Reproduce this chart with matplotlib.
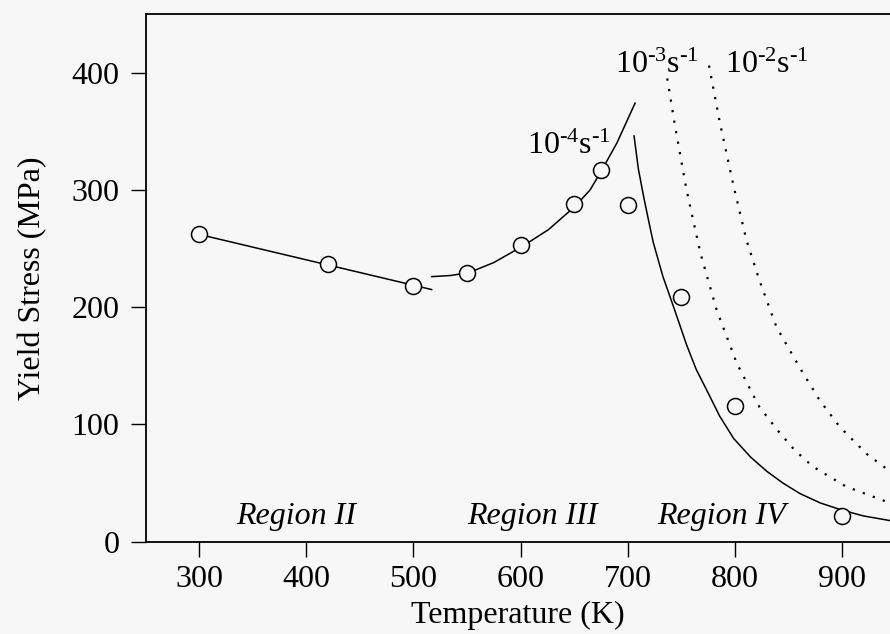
import matplotlib
matplotlib.use("Agg")
import matplotlib.pyplot as plt

plt.rcParams['font.family'] = ['Liberation Serif', 'DejaVu Serif']
plt.rcParams['mathtext.fontset'] = 'custom'
plt.rcParams['mathtext.rm'] = 'Liberation Serif'
plt.rcParams['mathtext.it'] = 'Liberation Serif:italic'

BG = '#f7f7f7'

# measured yield stress (open circles)
temp_pts = [300, 420, 500, 550, 600, 650, 675, 700, 750, 800, 900]
stress_pts = [262, 237, 218, 229, 253, 288, 317, 287, 209, 116, 22]

# region II fit
t_reg2 = [300, 517]
s_reg2 = [262, 215]

# region III fit, 1e-4 /s
t_reg3 = [517, 535, 552, 575, 602, 626, 651, 665, 676, 690, 707]
s_reg3 = [226, 227, 229.5, 238, 252, 266, 286, 300, 317, 340, 374]

# region IV fits for the three strain rates
t_e4 = [706, 710, 715, 720, 724, 733, 743, 755, 764, 774, 786, 799, 815, 830, 845, 861, 880, 900, 920, 945]
s_e4 = [346, 318, 294, 272, 255, 226, 200, 168, 147, 129, 107, 88, 72, 60, 50, 41, 33, 27, 22, 18]

t_e3 = [737, 744, 755, 768, 783, 802, 823, 840, 856, 873, 904, 945]
s_e3 = [395, 356, 300, 246, 198, 152, 115, 95, 78, 64, 47, 33]

t_e2 = [776, 786, 799, 811, 823, 839, 861, 879, 898, 923, 945]
s_e2 = [406, 358, 303, 257, 223, 183, 148, 121, 98, 75, 60]

fig = plt.figure(figsize=(8.9, 6.34), dpi=100, facecolor=BG)
ax = fig.add_axes([0.1637, 0.1456, 0.8363, 0.8324], facecolor=BG)

lw = 1.1
ax.plot(t_reg2, s_reg2, color='black', lw=lw, zorder=2)
ax.plot(t_reg3, s_reg3, color='black', lw=lw, zorder=2)
ax.plot(t_e4, s_e4, color='black', lw=lw, zorder=2)
ax.plot(t_e3, s_e3, color='black', lw=1.6, dashes=(1.0, 3.8), zorder=2)
ax.plot(t_e2, s_e2, color='black', lw=1.6, dashes=(1.0, 3.8), zorder=2)

ax.plot(temp_pts, stress_pts, 'o', ms=11.5, mfc=BG, mec='black', mew=1.1,
        ls='none', zorder=3)

fs = 23
hy = r'\text{-}'
ax.text(684, 331, r'$\mathregular{10^{%s4}s^{%s1}}$' % (hy, hy), fontsize=fs, ha='right', va='baseline')
ax.text(688, 400, r'$\mathregular{10^{%s3}s^{%s1}}$' % (hy, hy), fontsize=fs, ha='left', va='baseline')
ax.text(791, 400, r'$\mathregular{10^{%s2}s^{%s1}}$' % (hy, hy), fontsize=fs, ha='left', va='baseline')

ax.text(390, 15, 'Region II', fontsize=fs, style='italic', ha='center', va='baseline')
ax.text(611, 15, 'Region III', fontsize=fs, style='italic', ha='center', va='baseline')
ax.text(788, 15, 'Region IV', fontsize=fs, style='italic', ha='center', va='baseline')

ax.set_xlim(250, 945)
ax.set_ylim(0, 450)
ax.set_xticks([300, 400, 500, 600, 700, 800, 900])
ax.set_yticks([0, 100, 200, 300, 400])
ax.tick_params(direction='out', length=11, width=1, labelsize=fs)
ax.tick_params(axis='y', pad=8)
ax.tick_params(axis='x', pad=6)

for side in ['left', 'bottom', 'top']:
    ax.spines[side].set_linewidth(1.3)
ax.spines['right'].set_visible(False)

ax.set_xlabel('Temperature (K)', fontsize=fs, labelpad=5)
ax.set_ylabel('Yield Stress (MPa)', fontsize=fs, labelpad=17)

fig.savefig('out.png', dpi=100, facecolor=BG)
